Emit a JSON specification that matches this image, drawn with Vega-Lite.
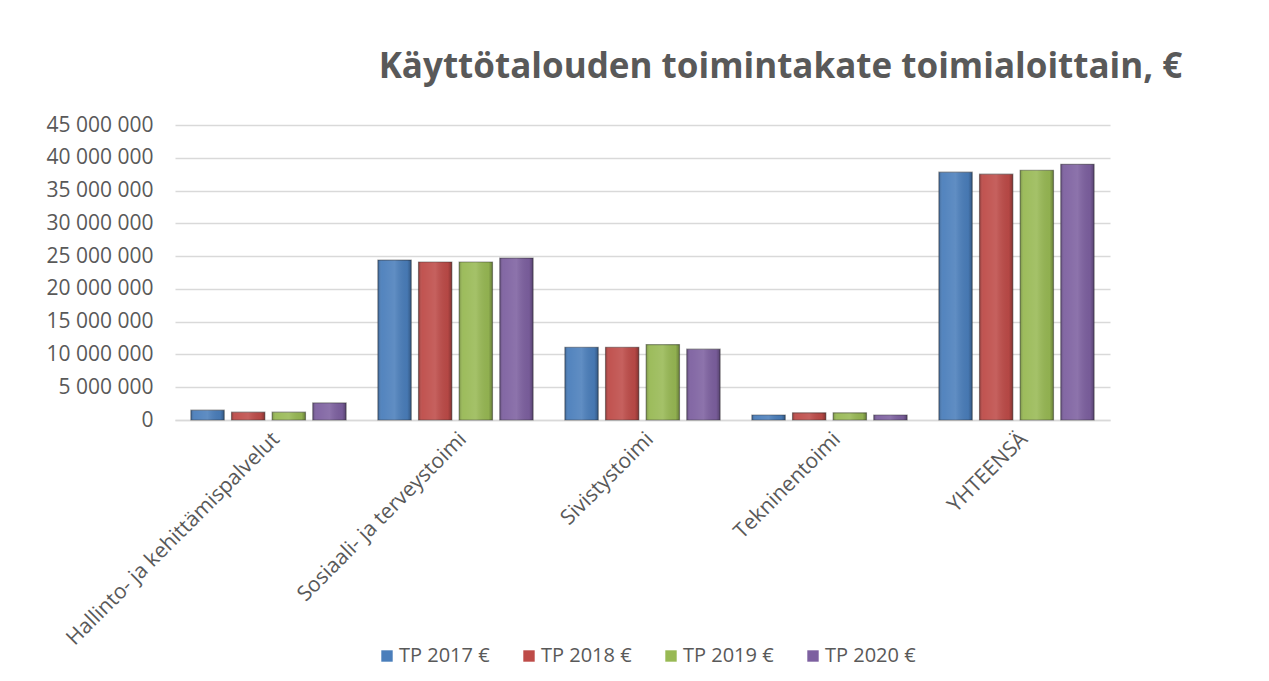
{
  "$schema": "https://vega.github.io/schema/vega-lite/v6.json",
  "autosize": {"type": "none"},
  "padding": {"left": 175, "top": 125, "right": 159, "bottom": 261},
  "width": 935,
  "height": 295,
  "background": "white",
  "config": {
    "locale": {"number": {"decimal": ",", "thousands": " ", "grouping": [3], "currency": ["", " €"]}},
    "view": {"stroke": null},
    "font": "Open Sans"
  },
  "title": {
    "text": "Käyttötalouden toimintakate toimialoittain, €",
    "font": "Open Sans",
    "fontSize": 35,
    "fontWeight": "bold",
    "color": "#595959",
    "anchor": "middle",
    "dx": 138,
    "offset": 29
  },
  "data": {
    "values": [
      {"toimiala": "Hallinto- ja kehittämispalvelut", "sarja": "TP 2017 €", "arvo": 1500000},
      {"toimiala": "Hallinto- ja kehittämispalvelut", "sarja": "TP 2018 €", "arvo": 1200000},
      {"toimiala": "Hallinto- ja kehittämispalvelut", "sarja": "TP 2019 €", "arvo": 1200000},
      {"toimiala": "Hallinto- ja kehittämispalvelut", "sarja": "TP 2020 €", "arvo": 2600000},
      {"toimiala": "Sosiaali- ja terveystoimi", "sarja": "TP 2017 €", "arvo": 24400000},
      {"toimiala": "Sosiaali- ja terveystoimi", "sarja": "TP 2018 €", "arvo": 24100000},
      {"toimiala": "Sosiaali- ja terveystoimi", "sarja": "TP 2019 €", "arvo": 24100000},
      {"toimiala": "Sosiaali- ja terveystoimi", "sarja": "TP 2020 €", "arvo": 24700000},
      {"toimiala": "Sivistystoimi", "sarja": "TP 2017 €", "arvo": 11100000},
      {"toimiala": "Sivistystoimi", "sarja": "TP 2018 €", "arvo": 11100000},
      {"toimiala": "Sivistystoimi", "sarja": "TP 2019 €", "arvo": 11500000},
      {"toimiala": "Sivistystoimi", "sarja": "TP 2020 €", "arvo": 10800000},
      {"toimiala": "Tekninentoimi", "sarja": "TP 2017 €", "arvo": 760000},
      {"toimiala": "Tekninentoimi", "sarja": "TP 2018 €", "arvo": 1100000},
      {"toimiala": "Tekninentoimi", "sarja": "TP 2019 €", "arvo": 1100000},
      {"toimiala": "Tekninentoimi", "sarja": "TP 2020 €", "arvo": 760000},
      {"toimiala": "YHTEENSÄ", "sarja": "TP 2017 €", "arvo": 37800000},
      {"toimiala": "YHTEENSÄ", "sarja": "TP 2018 €", "arvo": 37500000},
      {"toimiala": "YHTEENSÄ", "sarja": "TP 2019 €", "arvo": 38100000},
      {"toimiala": "YHTEENSÄ", "sarja": "TP 2020 €", "arvo": 39000000}
    ]
  },
  "encoding": {
    "x": {
      "field": "toimiala",
      "type": "nominal",
      "sort": null,
      "title": null,
      "scale": {"paddingInner": 0.17, "paddingOuter": 0.085},
      "axis": {
        "labelAngle": -45,
        "labelFontSize": 21,
        "labelColor": "#595959",
        "labelFont": "Open Sans",
        "domain": true,
        "domainColor": "#d9d9d9",
        "domainWidth": 1.5,
        "ticks": false,
        "labelPadding": 8,
        "labelLimit": 400
      }
    },
    "xOffset": {"field": "sarja", "type": "nominal", "scale": {"paddingInner": 0.18}},
    "y": {
      "field": "arvo",
      "type": "quantitative",
      "title": null,
      "scale": {"domain": [0, 45000000], "nice": false},
      "axis": {
        "values": [0, 5000000, 10000000, 15000000, 20000000, 25000000, 30000000, 35000000, 40000000, 45000000],
        "format": ",d",
        "labelFontSize": 21,
        "labelColor": "#595959",
        "labelFont": "Open Sans",
        "labelPadding": 22,
        "domain": false,
        "ticks": false,
        "gridColor": "#d9d9d9",
        "gridWidth": 1.5
      }
    }
  },
  "layer": [
    {
      "mark": {"type": "bar", "strokeWidth": 1.2, "stroke": "#2a2a2a", "strokeOpacity": 0.45},
      "encoding": {
        "color": {
          "field": "sarja",
          "type": "nominal",
          "scale": {"range": ["#4a7ebb", "#be4b48", "#98b954", "#7d60a0"]},
          "legend": {
            "title": null,
            "orient": "none",
            "direction": "horizontal",
            "legendX": 202,
            "legendY": 521,
            "symbolType": "square",
            "symbolSize": 130,
            "symbolStrokeWidth": 0,
            "labelFontSize": 20,
            "labelColor": "#595959",
            "labelFont": "Open Sans",
            "columnPadding": 29,
            "symbolOffset": 0,
            "labelOffset": 2
          }
        }
      }
    },
    {
      "mark": {
        "type": "bar",
        "color": {
          "gradient": "linear",
          "x1": 0, "y1": 0, "x2": 1, "y2": 0,
          "stops": [
            {"offset": 0, "color": "rgba(0,0,0,0.22)"},
            {"offset": 0.12, "color": "rgba(255,255,255,0.05)"},
            {"offset": 0.5, "color": "rgba(255,255,255,0.12)"},
            {"offset": 0.88, "color": "rgba(0,0,0,0.05)"},
            {"offset": 1, "color": "rgba(0,0,0,0.3)"}
          ]
        }
      },
      "encoding": {}
    }
  ]
}
